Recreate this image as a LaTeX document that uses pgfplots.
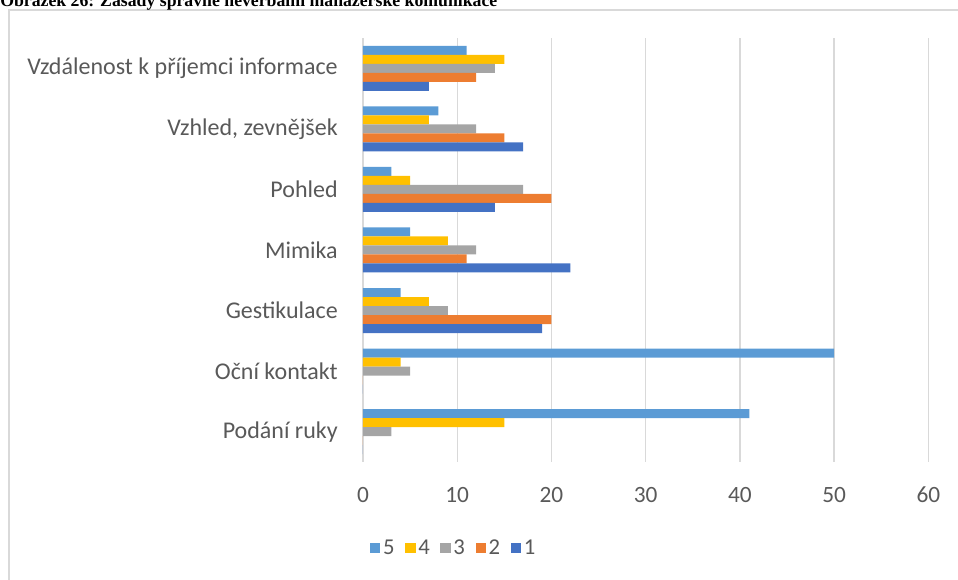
\documentclass[border=0pt]{standalone}
\usepackage{fontspec}
\usepackage{pgfplots}
\pgfplotsset{compat=1.18}
\setmainfont{Carlito}
\newfontfamily\titlefont{Liberation Serif}
\definecolor{cfive}{HTML}{5B9BD5}
\definecolor{cfour}{HTML}{FFC000}
\definecolor{cthree}{HTML}{A5A5A5}
\definecolor{ctwo}{HTML}{ED7D31}
\definecolor{cone}{HTML}{4472C4}
\definecolor{txt}{HTML}{595959}
\definecolor{gridc}{HTML}{D9D9D9}

% values per category (6 = top row, 0 = bottom row)
\pgfplotstableread{
idx s5 s4 s3 s2 s1
6 11 15 14 12 7
5 8 7 12 15 17
4 3 5 17 20 14
3 5 9 12 11 22
2 4 7 9 20 19
1 50 4 5 0 0
0 41 15 3 0 0
}\datatab

\begin{document}
\begin{tikzpicture}
\path[use as bounding box] (0,0) rectangle (718.5pt,435pt);
\clip (0,0) rectangle (718.5pt,435pt);
\draw[gridc, line width=1.1pt] (6.75pt,-20pt) -- (6.75pt,427.5pt) -- (740pt,427.5pt);
\node[anchor=base west, inner sep=0pt, font=\titlefont\bfseries\fontsize{13.3}{15}\selectfont]
  at (0pt,429.75pt) {Obrázek 26: Zásady správné neverbální manažerské komunikace};
\begin{axis}[
  at={(272.25pt,88.5pt)}, anchor=south west,
  scale only axis, width=424.1pt, height=318pt,
  xbar, bar width=6.75pt,
  xmin=0, xmax=60, ymin=-0.5, ymax=6.5,
  ytick={0,...,6},
  yticklabels={Podání ruky, Oční kontakt, Gestikulace, Mimika, Pohled, {Vzhled, zevnějšek}, Vzdálenost k příjemci informace},
  xtick={0,10,...,60},
  xmajorgrids, major grid style={draw=gridc, line width=1.1pt},
  axis line style={draw=none}, major tick length=0pt,
  /pgf/number format/assume math mode=true,
  yticklabel style={anchor=east, inner sep=0pt, xshift=-18.75pt, font=\fontsize{18}{20}\selectfont, text=txt},
  xticklabel style={anchor=center, inner sep=0pt, yshift=-24.75pt, font=\fontsize{17.5}{19}\selectfont, text=txt},
  legend columns=-1,
  legend style={at={(0.161,-0.203)}, anchor=center, draw=none, font=\fontsize{17}{19}\selectfont, text=txt,
    /tikz/every even column/.append style={column sep=6pt}},
  legend image code/.code={\fill[#1] (0pt,-3.9pt) rectangle (7.8pt,3.9pt);},
]
\addplot[fill=cfive, draw=none, bar shift=13.5pt] table[x=s5, y=idx] {\datatab};
\addplot[fill=cfour, draw=none, bar shift=6.75pt] table[x=s4, y=idx] {\datatab};
\addplot[fill=cthree, draw=none, bar shift=0pt] table[x=s3, y=idx] {\datatab};
\addplot[fill=ctwo, draw=none, bar shift=-6.75pt] table[x=s2, y=idx] {\datatab};
\addplot[fill=cone, draw=none, bar shift=-13.5pt] table[x=s1, y=idx] {\datatab};
\legend{5,4,3,2,1}
\end{axis}
\end{tikzpicture}
\end{document}
